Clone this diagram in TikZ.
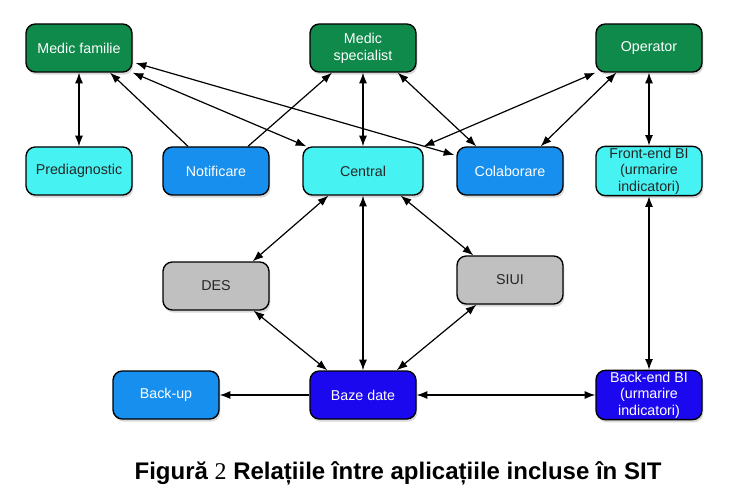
\documentclass[tikz,border=0pt]{standalone}
\usepackage{fontspec}
\setmainfont{Liberation Sans}
\newfontfamily\serifnum{Liberation Serif}
\usetikzlibrary{arrows.meta,shadows,calc}

\definecolor{medgreen}{RGB}{15,138,74}
\definecolor{lightcyan}{RGB}{70,242,242}
\definecolor{appblue}{RGB}{22,143,238}
\definecolor{appgray}{RGB}{192,192,192}
\definecolor{dbblue}{RGB}{28,8,238}

\begin{document}
\begin{tikzpicture}[x=0.75pt,y=-0.75pt,
    >={Latex[length=8pt,width=6pt]},
    every path/.style={line width=0.9pt},
    box/.style={draw, line width=1pt, rounded corners=7pt,
        minimum width=79.5pt, minimum height=36pt, inner sep=1pt,
        align=center, font=\fontsize{10.7}{12.5}\selectfont,
        drop shadow={shadow xshift=1pt, shadow yshift=-2pt, opacity=0.3}},
    actor/.style={box, fill=medgreen, text=white},
    module/.style={box, fill=lightcyan, text=black!85},
    service/.style={box, fill=appblue, text=white},
    external/.style={box, fill=appgray, text=black!85},
    store/.style={box, fill=dbblue, text=white}]
        \useasboundingbox (0,0) rectangle (750,499);

        % Define nodes, top row
        \node at (79, 48) (medfam) [actor] {Medic familie};
        \node at (363, 48) (medspec) [actor] {Medic\\specialist};
        \node at (649, 48) (oper) [actor] {Operator};

        % middle row
        \node at (79, 171) (prediag) [module] {Prediagnostic};
        \node at (216, 171) (notif) [service] {Notificare};
        \node at (363, 171) (central) [module, minimum width=90pt] {Central};
        \node at (510, 171) (colab) [service] {Colaborare};
        \node at (649, 171) (frontbi) [module] {Front-end BI\\(urmarire\\indicatori)};

        % external systems
        \node at (216, 286) (des) [external] {DES};
        \node at (510, 280) (siui) [external] {SIUI};

        % bottom row
        \node at (166, 395) (backup) [service] {Back-up};
        \node at (363, 395) (baze) [store] {Baze date};
        \node at (649, 395) (backbi) [store] {Back-end BI\\(urmarire\\indicatori)};

        % Draw edges
        \draw[<->] (medfam.south) -- (prediag.north);
        \draw[->] ($(notif.north)+(-28,0)$) -- ($(medfam.south)+(31,0)$);
        \draw[->] ($(notif.north)+(32,0)$) -- ($(medspec.south)+(-31,0)$);
        \draw[<->] (medfam.south east) -- ($(central.north west)+(4,0)$);
        \draw[<->] ($(medfam.east)+(3,15)$) -- ($(colab.west)+(-2,-16)$);
        \draw[<->] (medspec.south) -- (central.north);
        \draw[<->] ($(medspec.south east)+(-19,0)$) -- ($(colab.north west)+(20,0)$);
        \draw[<->] (oper.south west) -- (central.north east);
        \draw[<->] ($(oper.south west)+(21,0)$) -- ($(colab.north east)+(-23,0)$);
        \draw[<->] (oper.south) -- (frontbi.north);
        \draw[<->] ($(central.south west)+(26,0)$) -- ($(des.north east)+(-17,0)$);
        \draw[<->] ($(central.south east)+(-23,0)$) -- ($(siui.north west)+(17,0)$);
        \draw[<->] (central.south) -- (baze.north);
        \draw[<->] ($(des.south east)+(-16,0)$) -- ($(baze.north west)+(18,0)$);
        \draw[<->] ($(siui.south west)+(20,0)$) -- ($(baze.north east)+(-20,0)$);
        \draw[->] (baze.west) -- (backup.east);
        \draw[<->] (baze.east) -- (backbi.west);
        \draw[<->] (frontbi.south) -- (backbi.north);

        % Caption
        \node at (398, 473) (caption) {\fontsize{18}{20}\selectfont\bfseries Figură {\serifnum\mdseries 2} Relațiile între aplicațiile incluse în SIT};
    \end{tikzpicture}
\end{document}
